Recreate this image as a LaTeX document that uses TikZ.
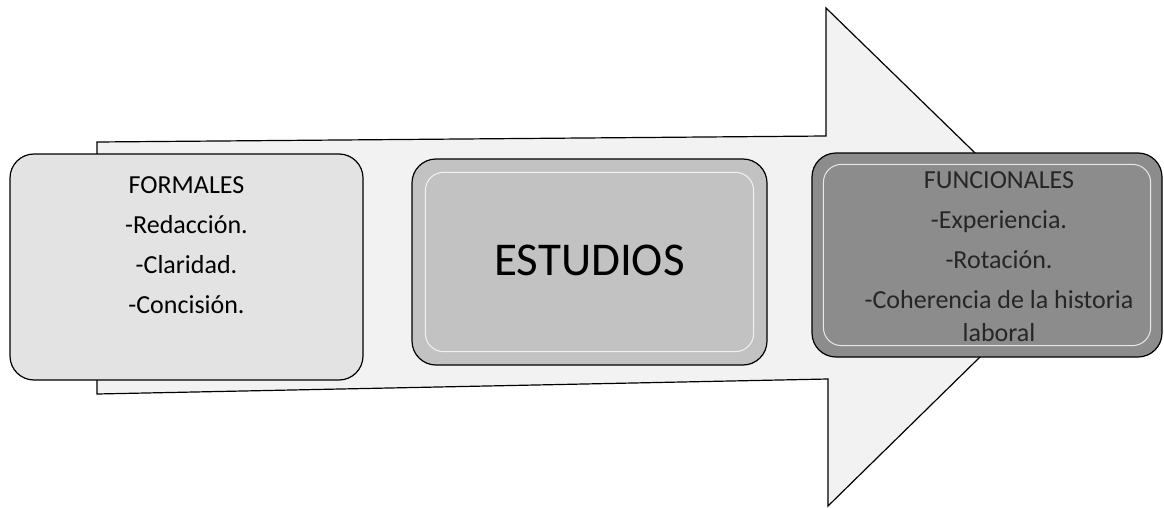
\documentclass[tikz,border=0pt]{standalone}
\usepackage{fontspec}
\setmainfont{Carlito}
\begin{document}
\begin{tikzpicture}[x=1pt,y=-1pt,
  box/.style={draw=black,line width=1.2pt,rounded corners=24pt,inner sep=0pt},
  bevel/.style={draw=white,draw opacity=0.8,line width=1pt,rounded corners=18pt},
  txt/.style={align=center,inner sep=0pt,text=black},
  bigarrow/.style={draw=black,line width=1.2pt,fill=black!5}]
\useasboundingbox (0,0) rectangle (1164,508);
% big arrow
\draw[bigarrow] (97,142) -- (826,136) -- (826,8) -- (1082,257) -- (828,506) -- (828,379) -- (97,394) -- cycle;
% boxes
\node[box,fill=black!11,minimum width=353pt,minimum height=226pt] (formales) at (186.5,267) {};
\node[box,fill=black!24,minimum width=355pt,minimum height=206pt] (estudios) at (589.5,262) {};
\draw[bevel] ([xshift=14pt,yshift=-14pt]estudios.north west) rectangle ([xshift=-14pt,yshift=14pt]estudios.south east);
\node[box,fill=black!45,minimum width=350pt,minimum height=204pt] (funcionales) at (987,255) {};
\draw[bevel] ([xshift=12pt,yshift=-12pt]funcionales.north west) rectangle ([xshift=-12pt,yshift=12pt]funcionales.south east);
% texts
\node[txt,font=\fontsize{26}{40}\selectfont] (tformales) at ([yshift=22pt]formales.center)
  {FORMALES\\-Redacción.\\-Claridad.\\-Concisión.};
\node[txt,font=\fontsize{47}{50}\selectfont] (testudios) at ([yshift=2pt]estudios.center) {ESTUDIOS};
\node[txt,text=black!85,font=\fontsize{26}{40}\selectfont] (tfuncionales) at ([xshift=12pt,yshift=-2pt]funcionales.center)
  {FUNCIONALES\\-Experiencia.\\-Rotación.\\-Coherencia de la historia\\[-7pt]laboral};
\end{tikzpicture}
\end{document}
